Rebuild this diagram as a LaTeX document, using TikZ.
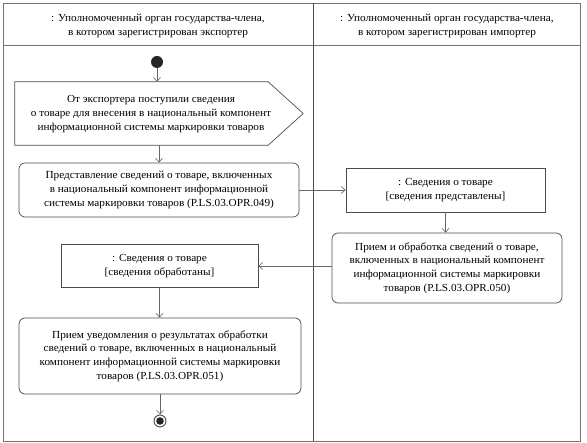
\documentclass[tikz,border=0pt]{standalone}
\usepackage{fontspec}
\setmainfont[FakeStretch=1.04]{Liberation Serif}
\usetikzlibrary{arrows.meta}
\begin{document}
\begin{tikzpicture}[x=1pt,y=-1pt,
  every node/.style={font=\fontsize{10.8}{13.7}\selectfont, align=center, inner sep=0pt},
  line/.style={draw=black!70, line width=0.7pt},
  arr/.style={draw=black!60, line width=0.6pt, -{Straight Barb[length=4pt,width=7pt]}},
  actbox/.style={line, rounded corners=6pt},
  objbox/.style={line},
]
\useasboundingbox (0,0) rectangle (587,443);
% frame and swimlanes
\draw[draw=black!55, line width=0.7pt] (3,3) rectangle (580,441);
\draw[draw=black!55, line width=0.7pt] (3,45) -- (580,45);
\draw[draw=black!70, line width=0.8pt] (313,3) -- (313,441);
\node (h1) at (158,26) {: Уполномоченный орган государства-члена,\\в котором зарегистрирован экспортер};
\node (h2) at (447,26) {: Уполномоченный орган государства-члена,\\в котором зарегистрирован импортер};
% start
\node[circle, fill=black!85, minimum size=12pt] (start) at (157,62) {};
% signal
\node[minimum width=288pt, minimum height=63pt] (pent) at (159,113.5) {};
\draw[line] (pent.north west) -- ([xshift=-35pt]pent.north east) -- (pent.east) -- ([xshift=-35pt]pent.south east) -- (pent.south west) -- cycle;
\node (pt) at (151,114) {От экспортера поступили сведения\\о товаре для внесения в национальный компонент\\информационной системы маркировки товаров};
% boxes
\node[actbox, minimum width=280pt, minimum height=54pt] (b2) at (159,190) {Представление сведений о товаре, включенных\\в национальный компонент информационной\\системы маркировки товаров (P.LS.03.OPR.049)};
\node[objbox, minimum width=199pt, minimum height=44pt] (b3) at (445.5,190) {: Сведения о товаре\\{[}сведения представлены{]}};
\node[actbox, minimum width=230pt, minimum height=70pt] (b4) at (447,268) {Прием и обработка сведений о товаре,\\включенных в национальный компонент\\информационной системы маркировки\\товаров (P.LS.03.OPR.050)};
\node[objbox, minimum width=197pt, minimum height=43pt] (b5) at (159.5,266) {: Сведения о товаре\\{[}сведения обработаны{]}};
\node[actbox, minimum width=282pt, minimum height=76pt] (b6) at (160,356) {Прием уведомления о результатах обработки\\сведений о товаре, включенных в национальный\\компонент информационной системы маркировки\\товаров (P.LS.03.OPR.051)};
% end
\node[circle, draw=black!80, line width=0.8pt, fill=white, minimum size=12pt,
  path picture={\fill[black!85] (path picture bounding box.center) circle (3.8pt);}] (end) at (160,421) {};
% connectors
\draw[arr] (start) -- (start |- pent.north);
\draw[arr] (pent.south -| b2.north) -- (b2.north);
\draw[arr] (b2.east) -- (b3.west);
\draw[arr] (b3.south) -- (b3.south |- b4.north);
\draw[arr] (b4.west |- b5.east) -- (b5.east);
\draw[arr] (b5.south) -- (b6.north -| b5.south);
\draw[arr] (b6.south) -- (end.north);
\end{tikzpicture}
\end{document}
